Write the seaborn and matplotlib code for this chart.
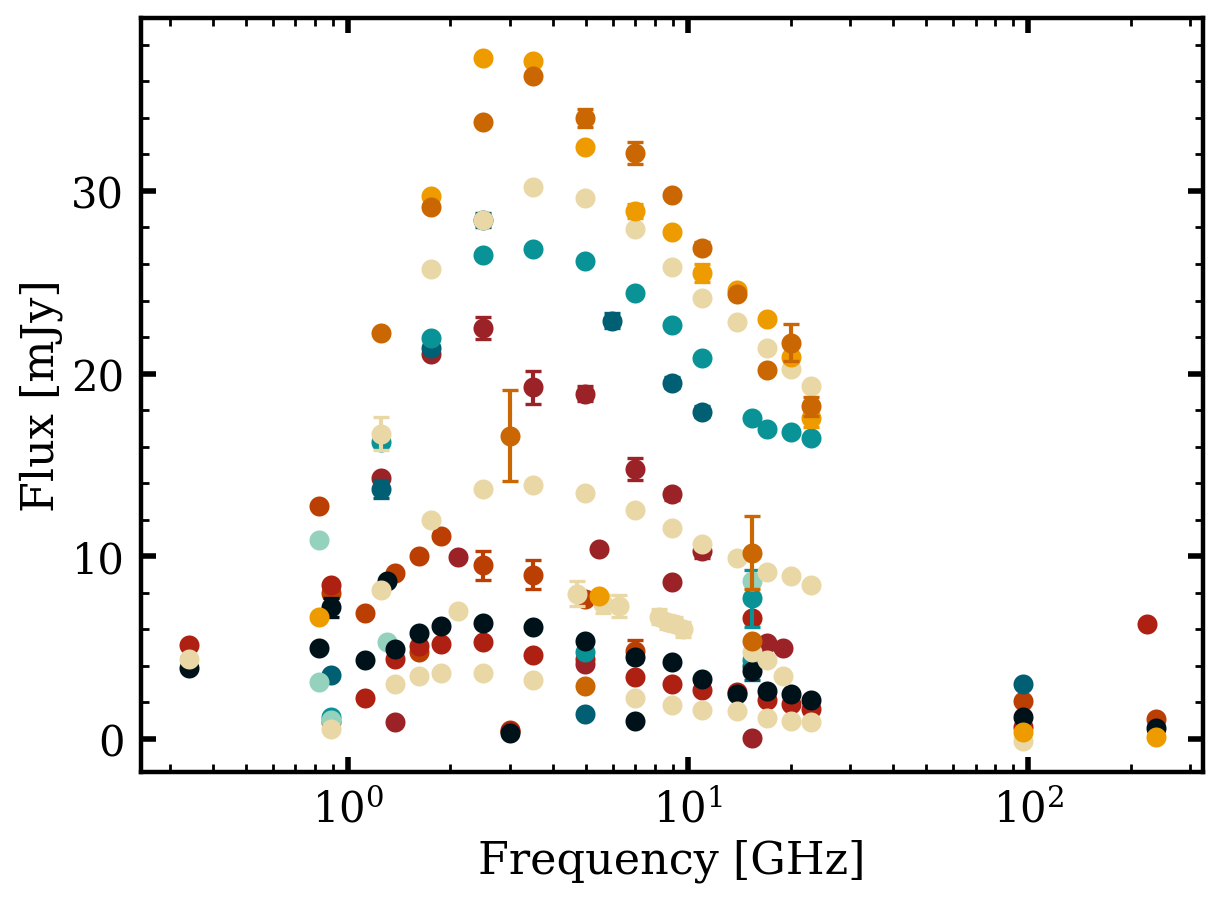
import numpy as np
import pandas as pd
import matplotlib
matplotlib.use("Agg")
import matplotlib.pyplot as plt
from matplotlib.ticker import MultipleLocator, LogLocator, NullFormatter
import seaborn as sns

# ---------------- data (frequency in GHz, flux in mJy, 1-sigma error) -------------
black_freq = [0.34, 0.82, 0.89, 1.12, 1.30, 1.375, 1.62, 1.88, 2.5, 3.0, 3.5, 4.98, 6.98, 6.98, 8.98, 11.0, 13.9, 15.4, 17.0, 20.0, 22.9, 96.7, 238]
black_flux = [3.9, 5.0, 7.2, 4.3, 8.65, 4.9, 5.8, 6.2, 6.35, 0.3, 6.1, 5.35, 4.5, 1.0, 4.2, 3.3, 2.45, 3.7, 2.6, 2.45, 2.15, 1.2, 0.6]
black_err = [0, 0, 0.5, 0, 0, 0, 0, 0, 0, 0, 0, 0, 0, 0, 0, 0, 0, 0, 0, 0, 0, 0, 0]

dteal_freq = [0.89, 1.25, 1.75, 2.5, 4.98, 5.97, 8.98, 11.0, 15.4, 96.7]
dteal_flux = [3.5, 13.7, 21.4, 28.4, 1.35, 22.9, 19.5, 17.9, 4.0, 3.0]
dteal_err = [0, 0.5, 0.3, 0.4, 0, 0.4, 0.3, 0.3, 0.8, 0]

teal_freq = [0.89, 1.25, 1.75, 2.5, 3.5, 4.98, 4.98, 6.98, 8.98, 11.0, 15.4, 15.4, 15.4, 17.0, 20.0, 22.9]
teal_flux = [1.2, 16.25, 21.95, 26.5, 26.8, 26.15, 4.75, 24.4, 22.65, 20.85, 17.55, 7.7, 4.3, 16.95, 16.8, 16.45]
teal_err = [0, 0, 0, 0, 0, 0, 0, 0, 0, 0, 0, 1.55, 0, 0, 0, 0]

lteal_freq = [0.82, 0.82, 0.89, 1.30, 15.4]
lteal_flux = [10.9, 3.1, 1.05, 5.3, 8.65]
lteal_err = [0, 0, 0, 0, 0]

cream_freq = [0.34, 0.89, 1.25, 1.25, 1.375, 1.62, 1.75, 1.75, 1.88, 2.1, 2.5, 2.5, 2.5,
              3.5, 3.5, 3.5, 4.72, 4.98, 4.98, 5.62, 6.27, 6.98, 6.98, 6.98,
              8.22, 8.67, 9.16, 9.67, 8.98, 8.98, 8.98, 11.0, 11.0, 11.0,
              13.9, 13.9, 13.9, 15.4, 17.0, 17.0, 17.0, 17.0, 19.0, 20.0, 20.0, 20.0,
              22.9, 22.9, 22.9, 96.7]
cream_flux = [4.4, 0.55, 16.7, 8.15, 3.0, 3.45, 25.7, 12.0, 3.6, 7.0, 28.4, 13.7, 3.6,
              30.2, 13.9, 3.25, 7.95, 29.6, 13.45, 7.4, 7.3, 27.9, 12.55, 2.25,
              6.7, 6.4, 6.3, 6.0, 25.85, 11.55, 1.85, 24.15, 10.65, 1.6,
              22.8, 9.9, 1.55, 4.75, 21.4, 9.15, 4.3, 1.15, 3.45, 20.25, 8.9, 1.0,
              19.3, 8.45, 0.9, -0.1]
cream_err = [0, 0, 0.9, 0, 0, 0, 0, 0, 0, 0, 0, 0, 0,
             0, 0, 0, 0.7, 0, 0, 0.5, 0.6, 0, 0, 0,
             0.4, 0.4, 0.4, 0.4, 0, 0, 0, 0, 0, 0,
             0, 0, 0, 0, 0, 0, 0, 0, 0, 0, 0, 0,
             0, 0, 0, 0]

orange_freq = [0.82, 1.75, 2.5, 3.5, 4.98, 5.47, 6.98, 8.98, 11.0, 13.9, 17.0, 20.0, 22.9, 96.7, 238]
orange_flux = [6.7, 29.7, 37.3, 37.1, 32.4, 7.8, 28.9, 27.75, 25.5, 24.6, 23.0, 20.9, 17.55, 0.4, 0.1]
orange_err = [0, 0, 0, 0, 0, 0, 0.4, 0, 0.5, 0, 0, 0, 0.45, 0, 0]

dorange_freq = [1.25, 1.75, 2.5, 3.0, 3.5, 4.98, 4.98, 6.98, 8.98, 11.0, 13.9, 15.4, 15.4, 17.0, 20.0, 22.9]
dorange_flux = [22.2, 29.1, 33.8, 16.6, 36.3, 34.0, 2.9, 32.1, 29.8, 26.9, 24.35, 10.2, 5.35, 20.2, 21.7, 18.2]
dorange_err = [0, 0, 0, 2.5, 0, 0.5, 0, 0.6, 0, 0.3, 0, 2.0, 0, 0, 1.0, 0.5]

rust_freq = [0.82, 0.89, 0.89, 1.12, 1.375, 1.62, 1.62, 1.88, 2.5, 3.0, 3.5, 4.98, 6.98, 96.7, 238]
rust_flux = [12.75, 0.9, 8.0, 6.9, 9.1, 10.0, 4.75, 11.1, 9.5, 0.5, 9.0, 7.65, 4.8, 2.1, 1.1]
rust_err = [0, 0, 0, 0, 0, 0, 0, 0, 0.8, 0, 0.8, 0, 0.6, 0, 0]

red_freq = [0.34, 0.89, 1.12, 1.375, 1.62, 1.88, 2.5, 3.0, 3.5, 4.98, 6.98, 8.98, 11.0, 13.9, 15.4, 17.0, 20.0, 22.9, 96.7, 223]
red_flux = [5.15, 8.4, 2.25, 4.4, 5.1, 5.2, 5.3, 0.45, 4.6, 4.4, 3.4, 3.0, 2.7, 2.55, 6.6, 2.15, 1.9, 1.65, 0.65, 6.3]
red_err = [0] * 20

dred_freq = [1.25, 1.375, 1.75, 2.1, 2.5, 3.5, 4.98, 4.98, 5.47, 6.98, 8.98, 8.98, 11.0, 15.4, 17.0, 19.0]
dred_flux = [14.3, 0.93, 21.1, 9.95, 22.5, 19.25, 18.9, 4.1, 10.4, 14.8, 13.4, 8.6, 10.3, 0.05, 5.25, 5.0]
dred_err = [0, 0, 0, 0, 0.6, 0.9, 0.4, 0, 0, 0.6, 0.3, 0, 0.4, 0, 0, 0]

# drawing order (later on top)
series = [
    ("rust", "#bb3e03", rust_freq, rust_flux, rust_err),
    ("red", "#ae2012", red_freq, red_flux, red_err),
    ("dred", "#9b2226", dred_freq, dred_flux, dred_err),
    ("dteal", "#005f73", dteal_freq, dteal_flux, dteal_err),
    ("teal", "#0a9396", teal_freq, teal_flux, teal_err),
    ("lteal", "#94d2bd", lteal_freq, lteal_flux, lteal_err),
    ("black", "#001219", black_freq, black_flux, black_err),
    ("cream", "#e9d8a6", cream_freq, cream_flux, cream_err),
    ("orange", "#ee9b00", orange_freq, orange_flux, orange_err),
    ("dorange", "#ca6702", dorange_freq, dorange_flux, dorange_err),
]

# ---------------- style ----------------
sns.set_style("ticks")
plt.rcParams['font.family'] = ['DejaVu Serif']
plt.rcParams['mathtext.fontset'] = 'dejavuserif'
plt.rcParams.update({
    "text.color": "black", "axes.labelcolor": "black", "axes.edgecolor": "black",
    "xtick.color": "black", "ytick.color": "black",
})

fig = plt.figure(figsize=(6.12, 4.515), dpi=200)
ax = fig.add_axes([0.1152, 0.144, 0.983 - 0.1152, 0.979 - 0.144])

z = 2
for name, col, f, s, e in series:
    df = pd.DataFrame({"freq": f, "flux": s, "err": e})
    de = df[df["err"] > 0]
    if len(de):
        ax.errorbar(de["freq"], de["flux"], yerr=de["err"], fmt="none", ecolor=col,
                    elinewidth=1.5, capsize=3, capthick=1.2, zorder=z)
    sns.scatterplot(data=df, x="freq", y="flux", color=col, s=52, linewidth=0,
                    ax=ax, zorder=z + 0.5, legend=False)
    z += 1

ax.set_xscale("log")
ax.set_xlim(0.246, 327)
ax.set_ylim(-1.81, 39.47)

ax.yaxis.set_major_locator(MultipleLocator(10))
ax.yaxis.set_minor_locator(MultipleLocator(2))
ax.xaxis.set_major_locator(LogLocator(base=10))
ax.xaxis.set_minor_locator(LogLocator(base=10, subs=np.arange(2, 10)))
ax.xaxis.set_minor_formatter(NullFormatter())

ax.tick_params(which="both", direction="in", top=True, right=True, colors="black")
ax.tick_params(which="major", length=5.5, width=2, labelsize=15, pad=6)
ax.tick_params(which="minor", length=3, width=1)
for sp in ax.spines.values():
    sp.set_linewidth(1.6)
    sp.set_color("black")
    sp.set_visible(True)

ax.set_xlabel("Frequency [GHz]", fontsize=16, labelpad=3)
ax.set_ylabel("Flux [mJy]", fontsize=16, labelpad=3)

fig.savefig("out.png", dpi=200)
